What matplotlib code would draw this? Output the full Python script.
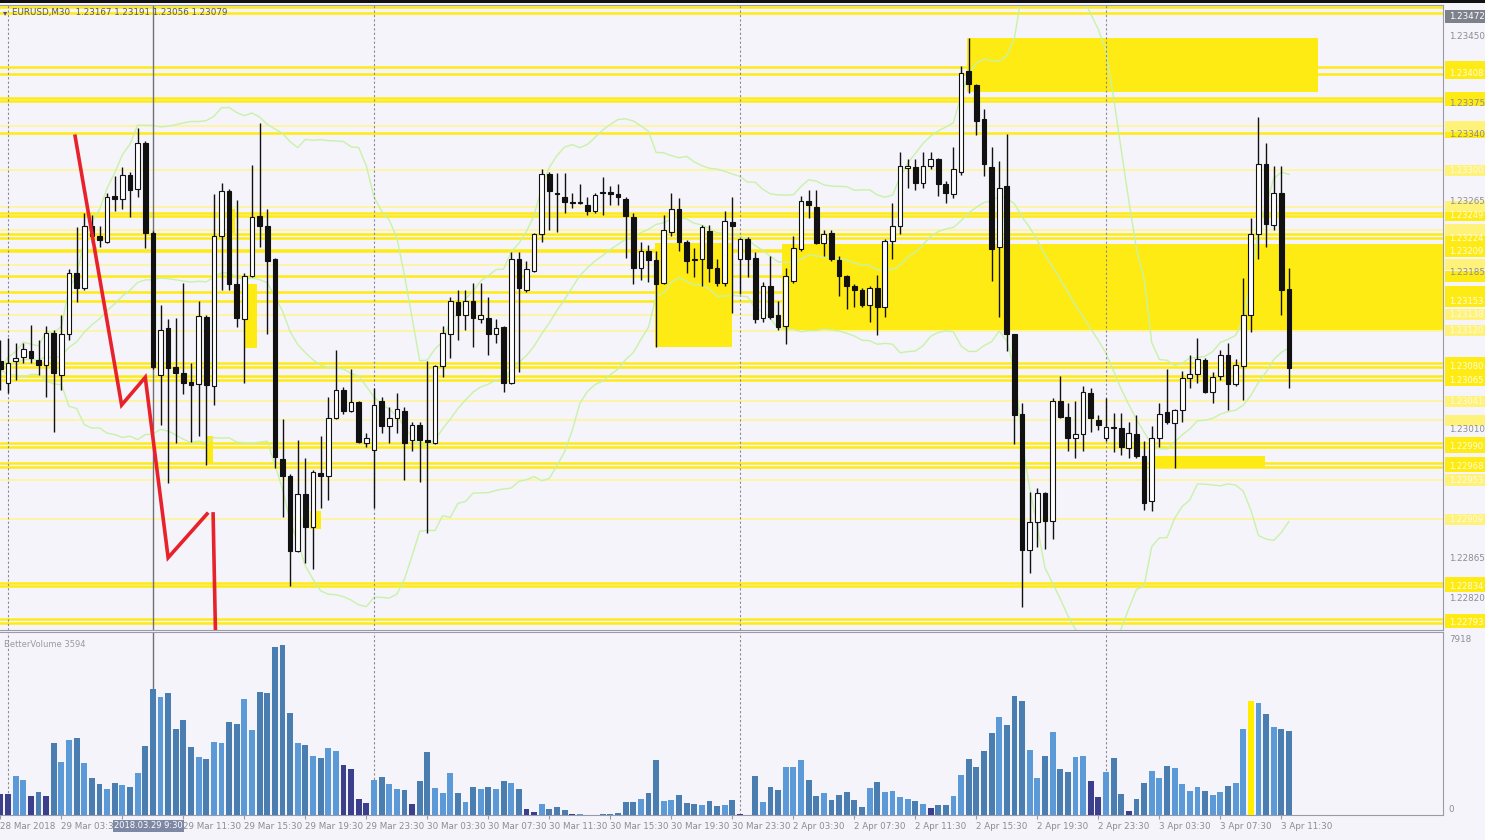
import numpy as np
import pandas as pd
import matplotlib
matplotlib.use("Agg")
import matplotlib.pyplot as plt
from matplotlib.patches import Rectangle

# EURUSD M30, bars from 28 Mar 2018 23:30 to 3 Apr 2018 12:00, prices in points (1e-5)
opens = [123086, 123062, 123086, 123091, 123098, 123087, 123082, 123118, 123071, 123116,
         123185, 123168, 123237, 123226, 123220, 123271, 123268, 123295, 123279, 123331,
         123230, 123071, 123123, 123080, 123073, 123063, 123061, 123136, 123058, 123226,
         123277, 123173, 123133, 123181, 123249, 123237, 123200, 122977, 122958, 122873,
         122937, 122900, 122961, 122957, 123023, 123054, 123030, 123040, 122995, 122987,
         123041, 123013, 123023, 123030, 122998, 123015, 122998, 122995, 123081, 123116,
         123152, 123138, 123153, 123133, 123135, 123116, 123124, 123062, 123201, 123166,
         123187, 123229, 123296, 123275, 123270, 123264, 123263, 123261, 123254, 123275,
         123276, 123273, 123268, 123248, 123191, 123209, 123199, 123174, 123231, 123256,
         123220, 123200, 123200, 123232, 123191, 123174, 123242, 123201, 123223, 123202,
         123135, 123170, 123138, 123126, 123176, 123212, 123265, 123259, 123219, 123230,
         123199, 123181, 123170, 123166, 123149, 123168, 123147, 123221, 123238, 123303,
         123304, 123286, 123305, 123312, 123284, 123273, 123298, 123411, 123395, 123357,
         123304, 123214, 123282, 123116, 123027, 122875, 122906, 122938, 122907, 123041,
         123024, 123000, 123005, 123051, 123020, 123000, 123012, 123011, 122989, 123005,
         122980, 122929, 123000, 123029, 123017, 123031, 123067, 123072, 123087, 123052,
         123069, 123093, 123061, 123081, 123138, 123229, 123307, 123239, 123274, 123167]
highs = [123110, 123112, 123107, 123107, 123127, 123110, 123125, 123121, 123138, 123189,
         123236, 123252, 123250, 123237, 123275, 123293, 123304, 123298, 123347, 123333,
         123232, 123149, 123133, 123135, 123174, 123084, 123153, 123138, 123273, 123286,
         123279, 123267, 123185, 123306, 123353, 123256, 123202, 123021, 122960, 122998,
         122978, 122964, 123002, 123046, 123099, 123057, 123077, 123042, 123006, 123056,
         123046, 123035, 123051, 123035, 123018, 123018, 123086, 123082, 123125, 123158,
         123166, 123166, 123174, 123174, 123158, 123133, 123126, 123208, 123208, 123198,
         123230, 123301, 123298, 123297, 123297, 123275, 123284, 123270, 123275, 123292,
         123282, 123284, 123270, 123252, 123220, 123216, 123209, 123250, 123275, 123269,
         123222, 123213, 123239, 123239, 123200, 123254, 123270, 123224, 123225, 123208,
         123175, 123204, 123153, 123191, 123226, 123271, 123278, 123278, 123233, 123233,
         123204, 123183, 123172, 123168, 123170, 123183, 123223, 123263, 123320, 123312,
         123312, 123320, 123320, 123314, 123288, 123326, 123417, 123448, 123396, 123369,
         123326, 123310, 123341, 123117, 123039, 122940, 122944, 122940, 123045, 123069,
         123039, 123041, 123058, 123056, 123026, 123045, 123028, 123028, 123018, 123026,
         122997, 123014, 123039, 123077, 123033, 123075, 123093, 123112, 123090, 123074,
         123099, 123107, 123088, 123179, 123246, 123360, 123331, 123305, 123305, 123191]
lows = [123054, 123051, 123065, 123084, 123084, 123071, 123046, 123007, 123054, 123110,
        123152, 123166, 123219, 123214, 123219, 123254, 123256, 123248, 123270, 123213,
        123077, 123015, 122950, 122995, 123049, 122996, 123002, 122970, 123037, 123166,
        123166, 123124, 123062, 123180, 123214, 123116, 122967, 122912, 122834, 122872,
        122860, 122853, 122922, 122931, 123021, 123027, 123029, 122995, 122990, 122922,
        123006, 122995, 123006, 122953, 122985, 122951, 122894, 122993, 123068, 123090,
        123110, 123121, 123102, 123129, 123093, 123107, 123052, 123060, 123074, 123164,
        123186, 123220, 123233, 123231, 123252, 123258, 123262, 123250, 123252, 123250,
        123261, 123261, 123202, 123172, 123177, 123175, 123102, 123172, 123226, 123209,
        123185, 123180, 123170, 123175, 123170, 123170, 123140, 123161, 123180, 123129,
        123130, 123133, 123121, 123105, 123174, 123210, 123246, 123217, 123204, 123198,
        123159, 123145, 123147, 123147, 123130, 123115, 123136, 123200, 123229, 123280,
        123278, 123280, 123301, 123271, 123263, 123269, 123295, 123386, 123339, 123293,
        123176, 123136, 123098, 122993, 122811, 122849, 122878, 122876, 122887, 123022,
        122986, 122978, 122986, 123007, 123009, 122997, 122984, 122981, 122978, 122978,
        122919, 122918, 122990, 123016, 122967, 123018, 123056, 123062, 123050, 123039,
        123065, 123031, 123058, 123043, 123119, 123200, 123214, 123233, 123138, 123056]
closes = [123077, 123084, 123090, 123100, 123090, 123082, 123118, 123073, 123117, 123185,
          123168, 123238, 123226, 123222, 123270, 123268, 123295, 123278, 123331, 123230,
          123080, 123121, 123079, 123073, 123062, 123059, 123137, 123059, 123226, 123277,
          123173, 123134, 123182, 123248, 123237, 123198, 122979, 122958, 122873, 122937,
          122900, 122962, 122957, 123023, 123054, 123030, 123040, 122996, 123000, 123037,
          123013, 123023, 123032, 122995, 123015, 122998, 122996, 123081, 123118, 123153,
          123138, 123153, 123135, 123138, 123116, 123123, 123062, 123201, 123168, 123189,
          123228, 123296, 123277, 123273, 123264, 123263, 123264, 123254, 123272, 123274,
          123273, 123270, 123249, 123191, 123209, 123199, 123172, 123233, 123257, 123220,
          123198, 123199, 123236, 123191, 123174, 123243, 123238, 123223, 123201, 123133,
          123170, 123136, 123124, 123181, 123213, 123265, 123261, 123219, 123229, 123200,
          123181, 123170, 123166, 123149, 123168, 123147, 123221, 123238, 123305, 123304,
          123286, 123305, 123312, 123284, 123274, 123301, 123409, 123396, 123355, 123307,
          123212, 123280, 123117, 123026, 122875, 122906, 122938, 122907, 123041, 123024,
          123000, 123004, 123052, 123022, 123015, 123012, 123011, 122990, 123006, 122980,
          122927, 123000, 123027, 123018, 123031, 123067, 123072, 123088, 123052, 123068,
          123093, 123061, 123082, 123138, 123229, 123307, 123240, 123274, 123166, 123079]
volumes = [930, 930, 1755, 1575, 855, 1050, 855, 3225, 2400, 3375,
           3450, 2325, 1650, 1380, 1155, 1425, 1350, 1245, 1875, 3105,
           5655, 5295, 5475, 3885, 4275, 3075, 2595, 2505, 3285, 3255,
           4200, 4095, 5205, 3825, 5550, 5475, 7575, 7665, 4575, 3225,
           3135, 2670, 2550, 3000, 2895, 2250, 2085, 705, 555, 1575,
           1695, 1395, 1155, 1125, 495, 1530, 2850, 1230, 975, 1875,
           975, 585, 1275, 1185, 1245, 1185, 1530, 1440, 1155, 255,
           120, 480, 255, 360, 210, 60, 45, 15, 20, 45,
           45, 90, 585, 585, 705, 1005, 2475, 615, 660, 900,
           555, 510, 450, 630, 390, 465, 675, 45, 20, 1755,
           600, 1260, 1110, 2175, 2175, 2490, 1590, 870, 1005, 690,
           915, 1035, 690, 360, 1215, 1470, 1050, 1080, 795, 735,
           615, 495, 315, 450, 450, 855, 1800, 2520, 2175, 2865,
           3675, 4410, 4050, 5355, 5130, 2925, 1680, 2655, 3735, 2055,
           1920, 2625, 2655, 1545, 825, 1920, 2550, 930, 195, 735,
           1455, 1980, 1650, 2205, 2130, 1395, 1095, 1275, 1065, 885,
           1035, 1320, 1455, 3855, 5130, 5055, 4545, 3945, 3885, 3780]
climax_bars = [0, 1, 4, 6, 45, 46, 47, 48, 54, 69, 70, 75, 97, 122, 143, 144, 148]
marked_bar = 164

tick_bars = list(range(0, 170, 8))
# the 07:30 label of 29 Mar sits under the crosshair date box
tick_labels = ["28 Mar 2018", "29 Mar 03:30", "", "29 Mar 11:30", "29 Mar 15:30",
               "29 Mar 19:30", "29 Mar 23:30", "30 Mar 03:30", "30 Mar 07:30", "30 Mar 11:30",
               "30 Mar 15:30", "30 Mar 19:30", "30 Mar 23:30", "2 Apr 03:30", "2 Apr 07:30",
               "2 Apr 11:30", "2 Apr 15:30", "2 Apr 19:30", "2 Apr 23:30", "3 Apr 03:30",
               "3 Apr 07:30", "3 Apr 11:30"]
day_starts = [1, 49, 97, 145]
cross_bar = 20

# support / resistance levels (points)
levels_strong = [123483, 123476, 123416, 123408, 123381, 123378, 123342, 123252, 123249,
                 123228, 123224, 123211, 123209, 123181, 123164, 123153, 123084, 123080,
                 123070, 123065, 122995, 122990, 122972, 122968, 122838, 122834, 122797, 122793]
levels_faint = [123349, 123300, 123259, 123233, 123194, 123138, 123120, 123041, 123020,
                122953, 122909]
# zones: bar_from, bar_to, low, high
zones = [(126.8, 172.8, 123388, 123448),
         (102.5, 189.2, 123121, 123217),
         (85.8, 95.9, 123102, 123218),
         (151.4, 165.8, 122967, 122980),
         (32.1, 33.6, 123101, 123172),
         (30.1, 30.8, 123230, 123256),
         (27.1, 27.9, 122972, 123002),
         (40.6, 42.0, 122898, 122918),
         (12.2, 12.7, 123207, 123214)]
zz_bar = [9.8, 15.9, 19.0, 22.0, 27.1]
zz_price = [123338, 123037, 123068, 122866, 122915]
zz2_bar = [27.9, 28.4]
zz2_price = [122915, 122700]
price_ticks = [123450, 123375, 123340, 123265, 123185, 123010, 122865, 122820]

BG = "#f4f4fa"
YEL = "#ffeb14"
YEL2 = "#fff4a6"

o = np.array(opens) / 1e5
h = np.array(highs) / 1e5
l = np.array(lows) / 1e5
c = np.array(closes) / 1e5
v = np.array(volumes)
idx = np.arange(len(o))

fig = plt.figure(figsize=(14.85, 8.4), dpi=100, facecolor=BG)
ax = fig.add_axes([0, 210 / 840, 1443 / 1485, 625 / 840])
axv = fig.add_axes([0, 25 / 840, 1443 / 1485, 183 / 840])
for a in (ax, axv):
    a.set_facecolor(BG)
    a.set_xlim(-0.05, 189.2)
    for side, s in a.spines.items():
        s.set_color("#9a9aa8")
        s.set_linewidth(0.8)
    a.spines["left"].set_visible(False)
ax.set_ylim(1.22785, 1.23485)
axv.set_ylim(0, 8235)
ax.set_xticks([])
ax.set_yticks([])
axv.set_yticks([])

# levels and zones
for p in levels_faint:
    ax.axhline(p / 1e5, color=YEL2, lw=1.4, zorder=1)
for p in levels_strong:
    ax.axhline(p / 1e5, color=YEL, lw=1.8, zorder=1.2)
for x0, x1, lo, hi in zones:
    ax.add_patch(Rectangle((x0, lo / 1e5), x1 - x0, (hi - lo) / 1e5,
                           facecolor=YEL, edgecolor="none", zorder=1.3))

# bollinger bands
s = pd.Series(c)
mid = s.rolling(20, min_periods=1).mean()
sd = s.rolling(20, min_periods=1).std().fillna(0)
for line in (mid, mid + 2 * sd, mid - 2 * sd):
    ax.plot(idx, line, color="#c9f2a8", lw=1.0, zorder=1.5)

# separators and crosshair
for d in day_starts:
    for a in (ax, axv):
        a.axvline(d, color="#8a8a96", lw=0.8, ls=(0, (2, 2)), zorder=2)
for a in (ax, axv):
    a.axvline(cross_bar, color="#707078", lw=1.0, zorder=2)

# candles
up = c >= o
ax.vlines(idx, l, h, color="#111111", lw=1.0, zorder=3)
body_lo = np.minimum(o, c)
body_h = np.maximum(np.abs(c - o), 0.000012)
ax.bar(idx, body_h, bottom=body_lo, width=0.62,
       color=np.where(up, "white", "#111111"), edgecolor="#111111", lw=0.8, zorder=3.2)

# zigzag
ax.plot(zz_bar, np.array(zz_price) / 1e5, color="#e8222c", lw=2.6, zorder=4,
        solid_joinstyle="miter")
ax.plot(zz2_bar, np.array(zz2_price) / 1e5, color="#e8222c", lw=2.6, zorder=4)

# right price scale
ytr = ax.get_yaxis_transform()
for p in price_ticks:
    ax.text(1.004, p / 1e5, "%.5f" % (p / 1e5), transform=ytr, fontsize=6.3,
            color="#8c8c96", va="center", ha="left", clip_on=False, zorder=7)
box_h = 0.000125
box_levels = sorted(levels_strong[2:] + levels_faint)
for p in box_levels:
    ax.add_patch(Rectangle((1.0015, p / 1e5 - box_h / 2), 0.0276, box_h, transform=ytr,
                           facecolor=YEL if p in levels_strong else "#fff27a",
                           edgecolor="none", clip_on=False, zorder=5))
# faint price text inside the yellow boxes, only where it has room
taken = list(price_ticks) + [123472]
for p in box_levels:
    if min(abs(p - t) for t in taken) > 13:
        ax.text(1.004, p / 1e5, "%.5f" % (p / 1e5), transform=ytr, fontsize=6.0,
                color="#fffbe0", va="center", ha="left", clip_on=False, zorder=6)
        taken.append(p)
ax.add_patch(Rectangle((1.0015, 1.23472 - 0.00007), 0.0276, 0.00014, transform=ytr,
                       facecolor="#7d818c", edgecolor="none", clip_on=False, zorder=6))
ax.text(1.004, 1.23472, "1.23472", transform=ytr, fontsize=6.3, color="white",
        va="center", ha="left", clip_on=False, zorder=7)

# volume
cols = np.where(up, "#5b9ad6", "#4a7db0").astype(object)
cols[climax_bars] = "#3b3f8c"
cols[marked_bar] = "#ffee00"
axv.bar(idx, v, width=0.78, color=list(cols), zorder=3)
vtr = axv.get_yaxis_transform()
axv.text(1.004, 7918, "7918", transform=vtr, fontsize=6.3, color="#8c8c96",
         va="center", ha="left", clip_on=False)
axv.text(1.004, 60, "0", transform=vtr, fontsize=6.3, color="#8c8c96",
         va="bottom", ha="left", clip_on=False)
axv.text(0.003, 0.93, "BetterVolume 3594", transform=axv.transAxes, fontsize=6,
         color="#9a9aa4", va="center")

axv.set_xticks(tick_bars)
axv.set_xticklabels(tick_labels, fontsize=6.3, color="#8c8c96", ha="left")
axv.tick_params(axis="x", length=3, color="#9a9aa8", pad=2)
axv.text(cross_bar - 0.6, -0.06, "2018.03.29 9:30", transform=axv.get_xaxis_transform(),
         fontsize=6.0, color="white", ha="center", va="center", zorder=10,
         bbox=dict(boxstyle="square,pad=0.15", facecolor="#7c88a4", edgecolor="none"),
         clip_on=False)

# header
fig.text(3 / 1485, 1 - 13 / 840, "\u25be", fontsize=6, color="#555555", va="center")
fig.text(12 / 1485, 1 - 13 / 840, "EURUSD,M30  1.23167 1.23191 1.23056 1.23079",
         fontsize=6.3, color="#5a5a5a", va="center")
fig.patches.append(Rectangle((0, 1 - 3 / 840), 1, 3 / 840, transform=fig.transFigure,
                             facecolor="#111111", edgecolor="none"))

fig.savefig("out.png", dpi=100, facecolor=BG)
